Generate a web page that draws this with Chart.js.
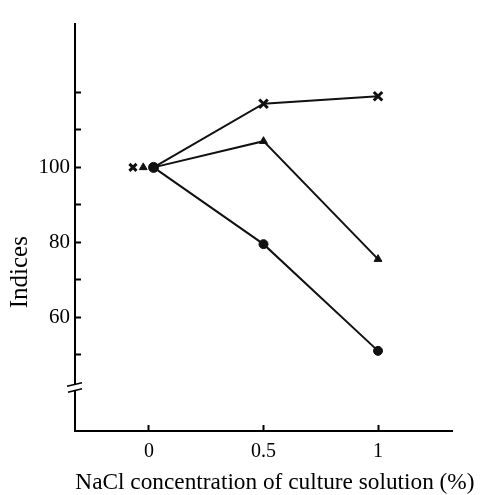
<!DOCTYPE html>
<html>
<head>
<meta charset="utf-8">
<script src="https://cdn.jsdelivr.net/npm/chart.js@4.4.0/dist/chart.umd.min.js"></script>
<style>
  html, body { margin: 0; padding: 0; background: #fff; }
  #wrap { width: 485px; height: 495px; }
</style>
</head>
<body>
<div id="wrap"><canvas id="chart"></canvas></div>
<script>
// data
var concentrations = [0, 0.5, 1];          // NaCl %
var crossValues = [100, 117, 119];
var triangleValues = [100, 107, 75.5];
var circleValues = [100, 79.5, 51];
var yTickValues = [50, 60, 70, 80, 90, 100, 110, 120];
var yLabelValues = [60, 80, 100];
var xTickValues = [0, 0.5, 1];
var xTickLabels = ["0", "0.5", "1"];
var yTitle = "Indices";
var xTitle = "NaCl concentration of culture solution (%)";

// the three control markers at 0 are printed side by side
var controlShift = { cross: -0.07, triangle: -0.025, circle: 0.02 };
var serif = "'Liberation Serif', 'Times New Roman', serif";

// lines all start from the circle marker at 0
function linePoints(values) {
    return concentrations.map(function (c, i) {
        if (i === 0) return { x: c + controlShift.circle, y: circleValues[0] };
        return { x: c, y: values[i] };
    });
}

// axis break on the y axis, plus both axis titles
// (Chart.js squeezes the x title to the plot width, the print runs wider)
var axisExtras = {
    id: "axisExtras",
    afterDraw: function (chart) {
        var ctx = chart.ctx;
        var xs = chart.scales.x, ys = chart.scales.y;
        var x = xs.left;
        var y = ys.getPixelForValue(41.3);
        ctx.save();
        ctx.fillStyle = "#fff";
        ctx.fillRect(x - 3, y - 3, 6, 6);
        ctx.strokeStyle = "#000";
        ctx.lineWidth = 1.6;
        ctx.beginPath();
        ctx.moveTo(x - 8, y - 1);
        ctx.lineTo(x + 7, y - 4.5);
        ctx.moveTo(x - 7, y + 5);
        ctx.lineTo(x + 7, y + 1.5);
        ctx.stroke();

        ctx.fillStyle = "#000";
        ctx.font = "23.3px " + serif;
        ctx.textAlign = "center";
        ctx.textBaseline = "alphabetic";
        ctx.fillText(xTitle, xs.getPixelForValue(0.55), 489);

        ctx.translate(20, ys.getPixelForValue(72));
        ctx.rotate(-Math.PI / 2);
        ctx.font = "25px " + serif;
        ctx.textBaseline = "middle";
        ctx.fillText(yTitle, 0, 0);
        ctx.restore();
    }
};

var ctx = document.getElementById("chart").getContext("2d");
var chart = new Chart(ctx, {
    type: "scatter",
    data: {
        datasets: [{
            data: linePoints(crossValues),
            showLine: true,
            borderColor: "#111",
            borderWidth: 2,
            pointStyle: "crossRot",
            pointRadius: [0, 6, 6],
            pointBorderWidth: 3,
            pointBorderColor: "#111",
            pointBackgroundColor: "#111"
        }, {
            data: linePoints(triangleValues),
            showLine: true,
            borderColor: "#111",
            borderWidth: 2,
            pointStyle: "triangle",
            pointRadius: [0, 4.5, 4.5],
            pointBorderWidth: 1,
            pointBorderColor: "#111",
            pointBackgroundColor: "#111"
        }, {
            data: linePoints(circleValues),
            showLine: true,
            borderColor: "#111",
            borderWidth: 2,
            pointStyle: "circle",
            pointRadius: [5, 4.5, 4.5],
            pointBorderWidth: 1,
            pointBorderColor: "#111",
            pointBackgroundColor: "#111"
        }, {
            // control markers for the other two series
            data: [
                { x: concentrations[0] + controlShift.cross, y: crossValues[0] }
            ],
            showLine: false,
            pointStyle: "crossRot",
            pointRadius: 5,
            pointBorderWidth: 3,
            pointBorderColor: "#111"
        }, {
            data: [
                { x: concentrations[0] + controlShift.triangle, y: triangleValues[0] }
            ],
            showLine: false,
            pointStyle: "triangle",
            pointRadius: 4.5,
            pointBorderWidth: 1,
            pointBorderColor: "#111",
            pointBackgroundColor: "#111"
        }]
    },
    options: {
        responsive: true,
        maintainAspectRatio: false,
        animation: false,
        layout: { padding: { left: 0, top: 23, right: 33, bottom: 0 } },
        plugins: {
            legend: { display: false },
            tooltip: { enabled: false }
        },
        scales: {
            x: {
                type: "linear",
                min: -0.323,
                max: 1.323,
                border: { color: "#000", width: 2 },
                grid: { drawOnChartArea: false, tickLength: -6, tickWidth: 2, tickColor: "#000" },
                afterBuildTicks: function (scale) {
                    scale.ticks = xTickValues.map(function (v) { return { value: v }; });
                },
                afterFit: function (scale) { scale.height = 64; },
                ticks: {
                    color: "#000",
                    padding: 15,
                    maxRotation: 0,
                    font: { family: serif, size: 20 },
                    callback: function (v) {
                        var i = xTickValues.indexOf(v);
                        return i >= 0 ? xTickLabels[i] : "";
                    }
                }
            },
            y: {
                min: 29.6,
                max: 138.4,
                border: { color: "#000", width: 2 },
                grid: { drawOnChartArea: false, tickLength: -6, tickWidth: 2, tickColor: "#000" },
                afterBuildTicks: function (scale) {
                    scale.ticks = yTickValues.map(function (v) { return { value: v }; });
                },
                afterFit: function (scale) { scale.width = 75; },
                ticks: {
                    color: "#000",
                    padding: 11,
                    font: { family: serif, size: 21 },
                    callback: function (v) {
                        return yLabelValues.indexOf(v) >= 0 ? String(v) : "";
                    }
                }
            }
        }
    },
    plugins: [axisExtras]
});
</script>
</body>
</html>
